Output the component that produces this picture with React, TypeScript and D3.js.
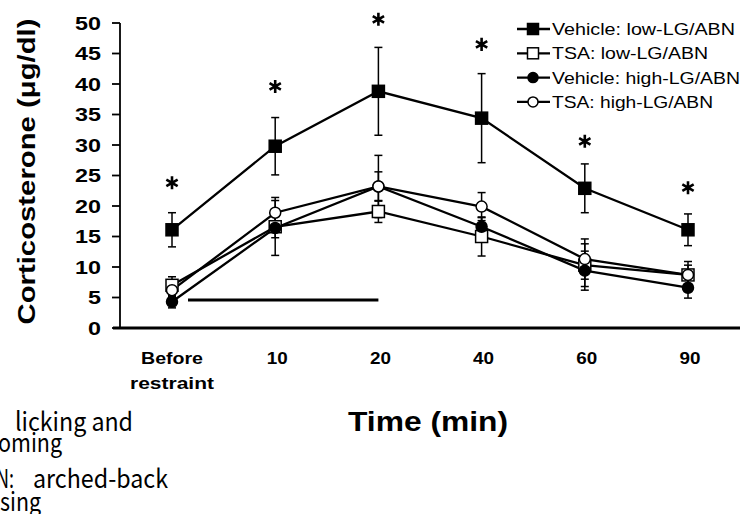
import React from "react";
import * as d3 from "d3";

const categories = ["Before", "10", "20", "40", "60", "90"];
const vehicleLowMean = [16.1, 29.8, 38.8, 34.4, 22.9, 16.1];
const vehicleLowErr = [2.8, 4.7, 7.2, 7.3, 4.0, 2.6];
const tsaLowMean = [7.0, 16.6, 19.1, 15.0, 10.3, 8.7];
const tsaLowErr = [1.4, 1.8, 1.8, 3.2, 3.5, 1.6];
const vehicleHighMean = [4.3, 16.4, 23.2, 16.6, 9.4, 6.6];
const vehicleHighErr = [1.0, 4.5, 2.4, 1.5, 3.2, 1.7];
const tsaHighMean = [6.2, 18.9, 23.2, 19.9, 11.3, 8.7];
const tsaHighErr = [1.0, 2.5, 5.1, 2.3, 3.3, 2.2];
const asteriskValues = [23.8, 39.6, 50.6, 46.5, 30.6, 23.0];
const yTicks = [0, 5, 10, 15, 20, 25, 30, 35, 40, 45, 50];
const restraintValue = 4.6;

const series = [
  { name: "Vehicle: low-LG/ABN", mean: vehicleLowMean, err: vehicleLowErr, shape: "square", filled: true, tl: 183 },
  { name: "TSA: low-LG/ABN", mean: tsaLowMean, err: tsaLowErr, shape: "square", filled: false, tl: 156 },
  { name: "Vehicle: high-LG/ABN", mean: vehicleHighMean, err: vehicleHighErr, shape: "circle", filled: true, tl: 188 },
  { name: "TSA: high-LG/ABN", mean: tsaHighMean, err: tsaHighErr, shape: "circle", filled: false, tl: 161 },
];

const W = 743;
const H = 514;
const FONT = "'Liberation Sans', Arial, sans-serif";
const JP = "'Noto Sans CJK JP', 'DejaVu Sans Condensed', sans-serif";

function Marker({ x, y, shape, filled, size }: any) {
  const fill = filled ? "#000" : "#fff";
  if (shape === "square") {
    return <rect x={x - size / 2} y={y - size / 2} width={size} height={size} fill={fill} stroke="#000" strokeWidth={1.5} />;
  }
  return <circle cx={x} cy={y} r={size / 2} fill={fill} stroke="#000" strokeWidth={1.5} />;
}

export default function App() {
  const x = d3.scalePoint<string>().domain(categories).range([172, 688]);
  const y = d3.scaleLinear().domain([0, 50]).range([328, 23]);
  const line = d3
    .line<number>()
    .x((_, i) => x(categories[i]) as number)
    .y((d) => y(d));
  const asterisk = d3.symbol().type(d3.symbolAsterisk).size(120)() as string;
  const cap = 4;

  return (
    <svg width={W} height={H} style={{ position: "absolute", left: 0, top: 0, background: "#fff" }}>
      <rect width={W} height={H} fill="#fff" />
      {/* axes */}
      <line x1={120} x2={120} y1={y(50)} y2={y(0)} stroke="#000" strokeWidth={1.8} />
      <line x1={113} x2={740} y1={y(0)} y2={y(0)} stroke="#000" strokeWidth={3} />
      {yTicks.map((t) => (
        <g key={t}>
          <line x1={112} x2={120} y1={y(t)} y2={y(t)} stroke="#000" strokeWidth={1.8} />
          <text
            x={101}
            y={y(t)}
            dy="0.36em"
            textAnchor="end"
            fontFamily={FONT}
            fontWeight="bold"
            fontSize={19}
            textLength={t >= 10 ? 26 : 13}
            lengthAdjust="spacingAndGlyphs"
          >
            {t}
          </text>
        </g>
      ))}
      <text
        transform={`translate(35,${(y(0) + y(50)) / 2 - 4}) rotate(-90)`}
        textAnchor="middle"
        fontFamily={FONT}
        fontWeight="bold"
        fontSize={24}
        textLength={306}
        lengthAdjust="spacingAndGlyphs"
      >
        Corticosterone (μg/dl)
      </text>
      {/* x labels */}
      {categories.map((c) =>
        c === "Before" ? (
          <g key={c}>
            <text x={x(c)} y={364} textAnchor="middle" fontFamily={FONT} fontWeight="bold" fontSize={17} textLength={62} lengthAdjust="spacingAndGlyphs">
              Before
            </text>
            <text x={x(c)} y={389} textAnchor="middle" fontFamily={FONT} fontWeight="bold" fontSize={17} textLength={84} lengthAdjust="spacingAndGlyphs">
              restraint
            </text>
          </g>
        ) : (
          <text key={c} x={(x(c) as number) + 2} y={364} textAnchor="middle" fontFamily={FONT} fontWeight="bold" fontSize={17} textLength={21} lengthAdjust="spacingAndGlyphs">
            {c}
          </text>
        )
      )}
      <text x={428} y={431} textAnchor="middle" fontFamily={FONT} fontWeight="bold" fontSize={27} textLength={160} lengthAdjust="spacingAndGlyphs">
        Time (min)
      </text>
      {/* restraint bar */}
      <line x1={(x("Before") as number) + 16} x2={x("20")} y1={y(restraintValue)} y2={y(restraintValue)} stroke="#000" strokeWidth={3} />
      {/* lines */}
      {series.map((s) => (
        <path key={s.name} d={line(s.mean) as string} fill="none" stroke="#000" strokeWidth={2.3} />
      ))}
      {/* error bars */}
      {series.map((s) =>
        s.mean.map((m, i) => {
          const cx = x(categories[i]) as number;
          const top = y(m + s.err[i]);
          const bot = y(m - s.err[i]);
          return (
            <g key={s.name + i} stroke="#000" strokeWidth={1.5}>
              <line x1={cx} x2={cx} y1={top} y2={bot} />
              <line x1={cx - cap} x2={cx + cap} y1={top} y2={top} />
              <line x1={cx - cap} x2={cx + cap} y1={bot} y2={bot} />
            </g>
          );
        })
      )}
      {/* markers */}
      {series.map((s) =>
        s.mean.map((m, i) => (
          <Marker key={s.name + "m" + i} x={x(categories[i])} y={y(m)} shape={s.shape} filled={s.filled} size={s.shape === "square" ? 12 : 11} />
        ))
      )}
      {/* asterisks */}
      {asteriskValues.map((v, i) => (
        <path key={"a" + i} d={asterisk} transform={`translate(${x(categories[i])},${y(v)})`} fill="none" stroke="#000" strokeWidth={2.6} />
      ))}
      {/* legend */}
      {series.map((s, i) => {
        const ly = 29 + i * 24.3;
        return (
          <g key={"lg" + i}>
            <line x1={517} x2={550} y1={ly} y2={ly} stroke="#000" strokeWidth={2.3} />
            <Marker x={533} y={ly} shape={s.shape} filled={s.filled} size={s.shape === "square" ? 11 : 10} />
            <text x={552} y={ly} dy="0.36em" fontFamily={FONT} fontSize={17} textLength={s.tl} lengthAdjust="spacingAndGlyphs">
              {s.name}
            </text>
          </g>
        );
      })}
      {/* clipped footnote text */}
      <g fontFamily={JP} fontSize={26}>
        <text x={15} y={431} textLength={118} lengthAdjust="spacingAndGlyphs">licking and</text>
        <text x={-2} y={452} textLength={64} lengthAdjust="spacingAndGlyphs">oming</text>
        <text x={-4} y={488} textLength={18} lengthAdjust="spacingAndGlyphs">N:</text>
        <text x={33} y={488} textLength={135} lengthAdjust="spacingAndGlyphs">arched-back</text>
        <text x={0} y={511} textLength={41} lengthAdjust="spacingAndGlyphs">sing</text>
      </g>
    </svg>
  );
}
